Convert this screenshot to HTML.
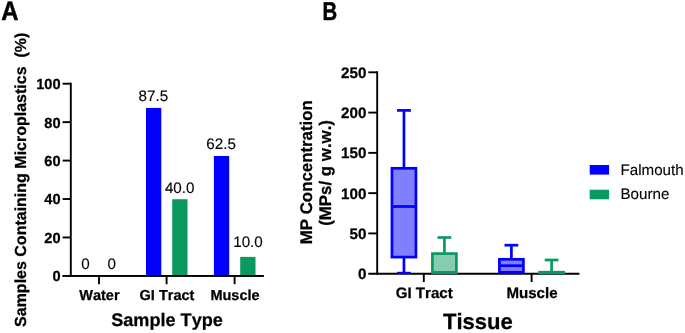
<!DOCTYPE html>
<html lang="en">
<head>
<meta charset="utf-8">
<style>
html,body{margin:0;padding:0;background:#fff;}
body{width:685px;height:333px;overflow:hidden;}
svg{display:block;font-family:"Liberation Sans",Arial,Helvetica,sans-serif;fill:#000;text-rendering:geometricPrecision;font-kerning:none;}
.b{font-weight:bold;stroke:#000;stroke-width:0.25px;}
.r{stroke:#000;stroke-width:0.12px;}
.big{stroke-width:0.5px;}
.ax{stroke:#000;stroke-width:1.9;fill:none;shape-rendering:auto;}
</style>
</head>
<body>
<svg width="685" height="333" viewBox="0 0 685 333">
<rect x="0" y="0" width="685" height="333" fill="#fff"/>
<!-- Panel A -->
<text class="b big" transform="translate(1.3,20.3) scale(0.9,1)" font-size="26.6">A</text>
<text class="b" font-size="16" text-anchor="middle" transform="translate(25.6,179.8) rotate(-90)" xml:space="preserve">Samples Containing Microplastics  (%)</text>
<path class="ax" d="M70.8,82.70 V276.80"/>
<path class="ax" d="M62.6,275.90 H263.8"/>
<path class="ax" d="M62.6,237.46 H70.8"/>
<path class="ax" d="M62.6,199.02 H70.8"/>
<path class="ax" d="M62.6,160.58 H70.8"/>
<path class="ax" d="M62.6,122.14 H70.8"/>
<path class="ax" d="M62.6,83.70 H70.8"/>
<text class="b" font-size="14.6" text-anchor="end" x="60.6" y="281.30">0</text>
<text class="b" font-size="14.6" text-anchor="end" x="60.6" y="242.86">20</text>
<text class="b" font-size="14.6" text-anchor="end" x="60.6" y="204.42">40</text>
<text class="b" font-size="14.6" text-anchor="end" x="60.6" y="165.98">60</text>
<text class="b" font-size="14.6" text-anchor="end" x="60.6" y="127.54">80</text>
<text class="b" font-size="14.6" text-anchor="end" x="60.6" y="89.10">100</text>
<path class="ax" d="M99.0,275.90 V284.2"/>
<text class="b" font-size="14.5" text-anchor="middle" x="99.4" y="299.9">Water</text>
<path class="ax" d="M166.6,275.90 V284.2"/>
<text class="b" font-size="14.5" text-anchor="middle" x="167.0" y="299.9">GI Tract</text>
<path class="ax" d="M234.6,275.90 V284.2"/>
<text class="b" font-size="14.5" text-anchor="middle" x="235.0" y="299.9">Muscle</text>
<text class="b" font-size="18.1" text-anchor="middle" x="167.0" y="325.5">Sample Type</text>
<rect x="146.0" y="107.92" width="15.3" height="167.97" fill="#0000ff"/>
<rect x="172.2" y="199.22" width="15.3" height="76.68" fill="#0b9961"/>
<rect x="213.9" y="155.97" width="15.3" height="119.93" fill="#0000ff"/>
<rect x="240.2" y="256.88" width="15.3" height="19.02" fill="#0b9961"/>
<text class="r" font-size="15.2" text-anchor="middle" x="153.3" y="100.8">87.5</text>
<text class="r" font-size="15.2" text-anchor="middle" x="179.7" y="192.9">40.0</text>
<text class="r" font-size="15.2" text-anchor="middle" x="221.1" y="149.4">62.5</text>
<text class="r" font-size="15.2" text-anchor="middle" x="248.0" y="247.3">10.0</text>
<text class="r" font-size="15.2" text-anchor="middle" x="85.6" y="269.3">0</text>
<text class="r" font-size="15.2" text-anchor="middle" x="111.85" y="269.3">0</text>
<path class="ax" d="M62.6,275.90 H263.8"/>
<!-- Panel B -->
<text class="b big" transform="translate(322.4,20.2) scale(0.79,1)" font-size="25.7">B</text>
<text class="b" font-size="16.85" text-anchor="middle" transform="translate(311.6,172.2) rotate(-90)">MP Concentration</text>
<text class="b" font-size="16.85" text-anchor="middle" transform="translate(331.1,172.9) rotate(-90)" xml:space="preserve">(MPs/ g w.w.)</text>
<path class="ax" d="M377.2,71.30 V274.60"/>
<path class="ax" d="M368.3,233.42 H377.2"/>
<path class="ax" d="M368.3,193.14 H377.2"/>
<path class="ax" d="M368.3,152.86 H377.2"/>
<path class="ax" d="M368.3,112.58 H377.2"/>
<path class="ax" d="M368.3,72.30 H377.2"/>
<text class="b" font-size="15.2" text-anchor="end" x="366.4" y="279.15">0</text>
<text class="b" font-size="15.2" text-anchor="end" x="366.4" y="238.87">50</text>
<text class="b" font-size="15.2" text-anchor="end" x="366.4" y="198.59">100</text>
<text class="b" font-size="15.2" text-anchor="end" x="366.4" y="158.31">150</text>
<text class="b" font-size="15.2" text-anchor="end" x="366.4" y="118.03">200</text>
<text class="b" font-size="15.2" text-anchor="end" x="366.4" y="77.75">250</text>
<path class="ax" d="M368.3,273.70 H579.4"/>
<path class="ax" d="M423.8,273.70 V282"/>
<text class="b" font-size="15.1" text-anchor="middle" x="424.2" y="298.3">GI Tract</text>
<path class="ax" d="M531.6,273.70 V282"/>
<text class="b" font-size="15.1" text-anchor="middle" x="532.0" y="298.3">Muscle</text>
<text class="b" font-size="22.1" text-anchor="middle" x="477.9" y="328.7">Tissue</text>
<g stroke="#0000ff" fill="none"><path stroke-width="2.7" d="M403.95,110.40 V168.30 M403.95,257.10 V273.00"/><path stroke-width="2.7" d="M397.05,110.40 H410.85"/><path stroke-width="2.2" d="M397.05,272.90 H410.85"/><rect stroke-width="2.7" x="391.95" y="168.30" width="24.0" height="88.80" fill="#8080ff"/><path stroke-width="2.7" d="M391.95,206.50 H415.95"/></g>
<g stroke="#0b9961" fill="none"><path stroke-width="2.7" d="M444.4,237.50 V253.60 M444.4,272.50 V273.00"/><path stroke-width="2.7" d="M437.50,237.50 H451.30"/><path stroke-width="2.2" d="M437.50,272.90 H451.30"/><rect stroke-width="2.7" x="432.40" y="253.60" width="24.0" height="18.90" fill="#85ccb0"/><path stroke-width="2.7" d="M432.40,272.50 H456.40"/></g>
<g stroke="#0000ff" fill="none"><path stroke-width="2.7" d="M511.4,245.20 V259.30 M511.4,272.30 V273.00"/><path stroke-width="2.7" d="M504.50,245.20 H518.30"/><path stroke-width="2.2" d="M504.50,272.90 H518.30"/><rect stroke-width="2.7" x="499.40" y="259.30" width="24.0" height="13.00" fill="#8080ff"/><path stroke-width="2.7" d="M499.40,265.70 H523.40"/></g>
<g stroke="#0b9961" fill="none"><path stroke-width="2.7" d="M551.6,260.00 V272.20 M551.6,272.70 V273.00"/><path stroke-width="2.7" d="M544.70,260.00 H558.50"/><path stroke-width="2.2" d="M544.70,272.90 H558.50"/><rect stroke-width="2.7" x="539.60" y="272.20" width="24.0" height="0.50" fill="#85ccb0"/><path stroke-width="2.7" d="M539.60,272.70 H563.60"/></g>
<rect x="589.7" y="165" width="19.4" height="9.6" fill="#0000ff"/>
<rect x="589.7" y="189.7" width="19.4" height="9.6" fill="#0b9961"/>
<text class="r" font-size="15.15" x="620.5" y="174.7">Falmouth</text>
<text class="r" font-size="15.15" x="620.5" y="199.4">Bourne</text>
</svg>
</body>
</html>
